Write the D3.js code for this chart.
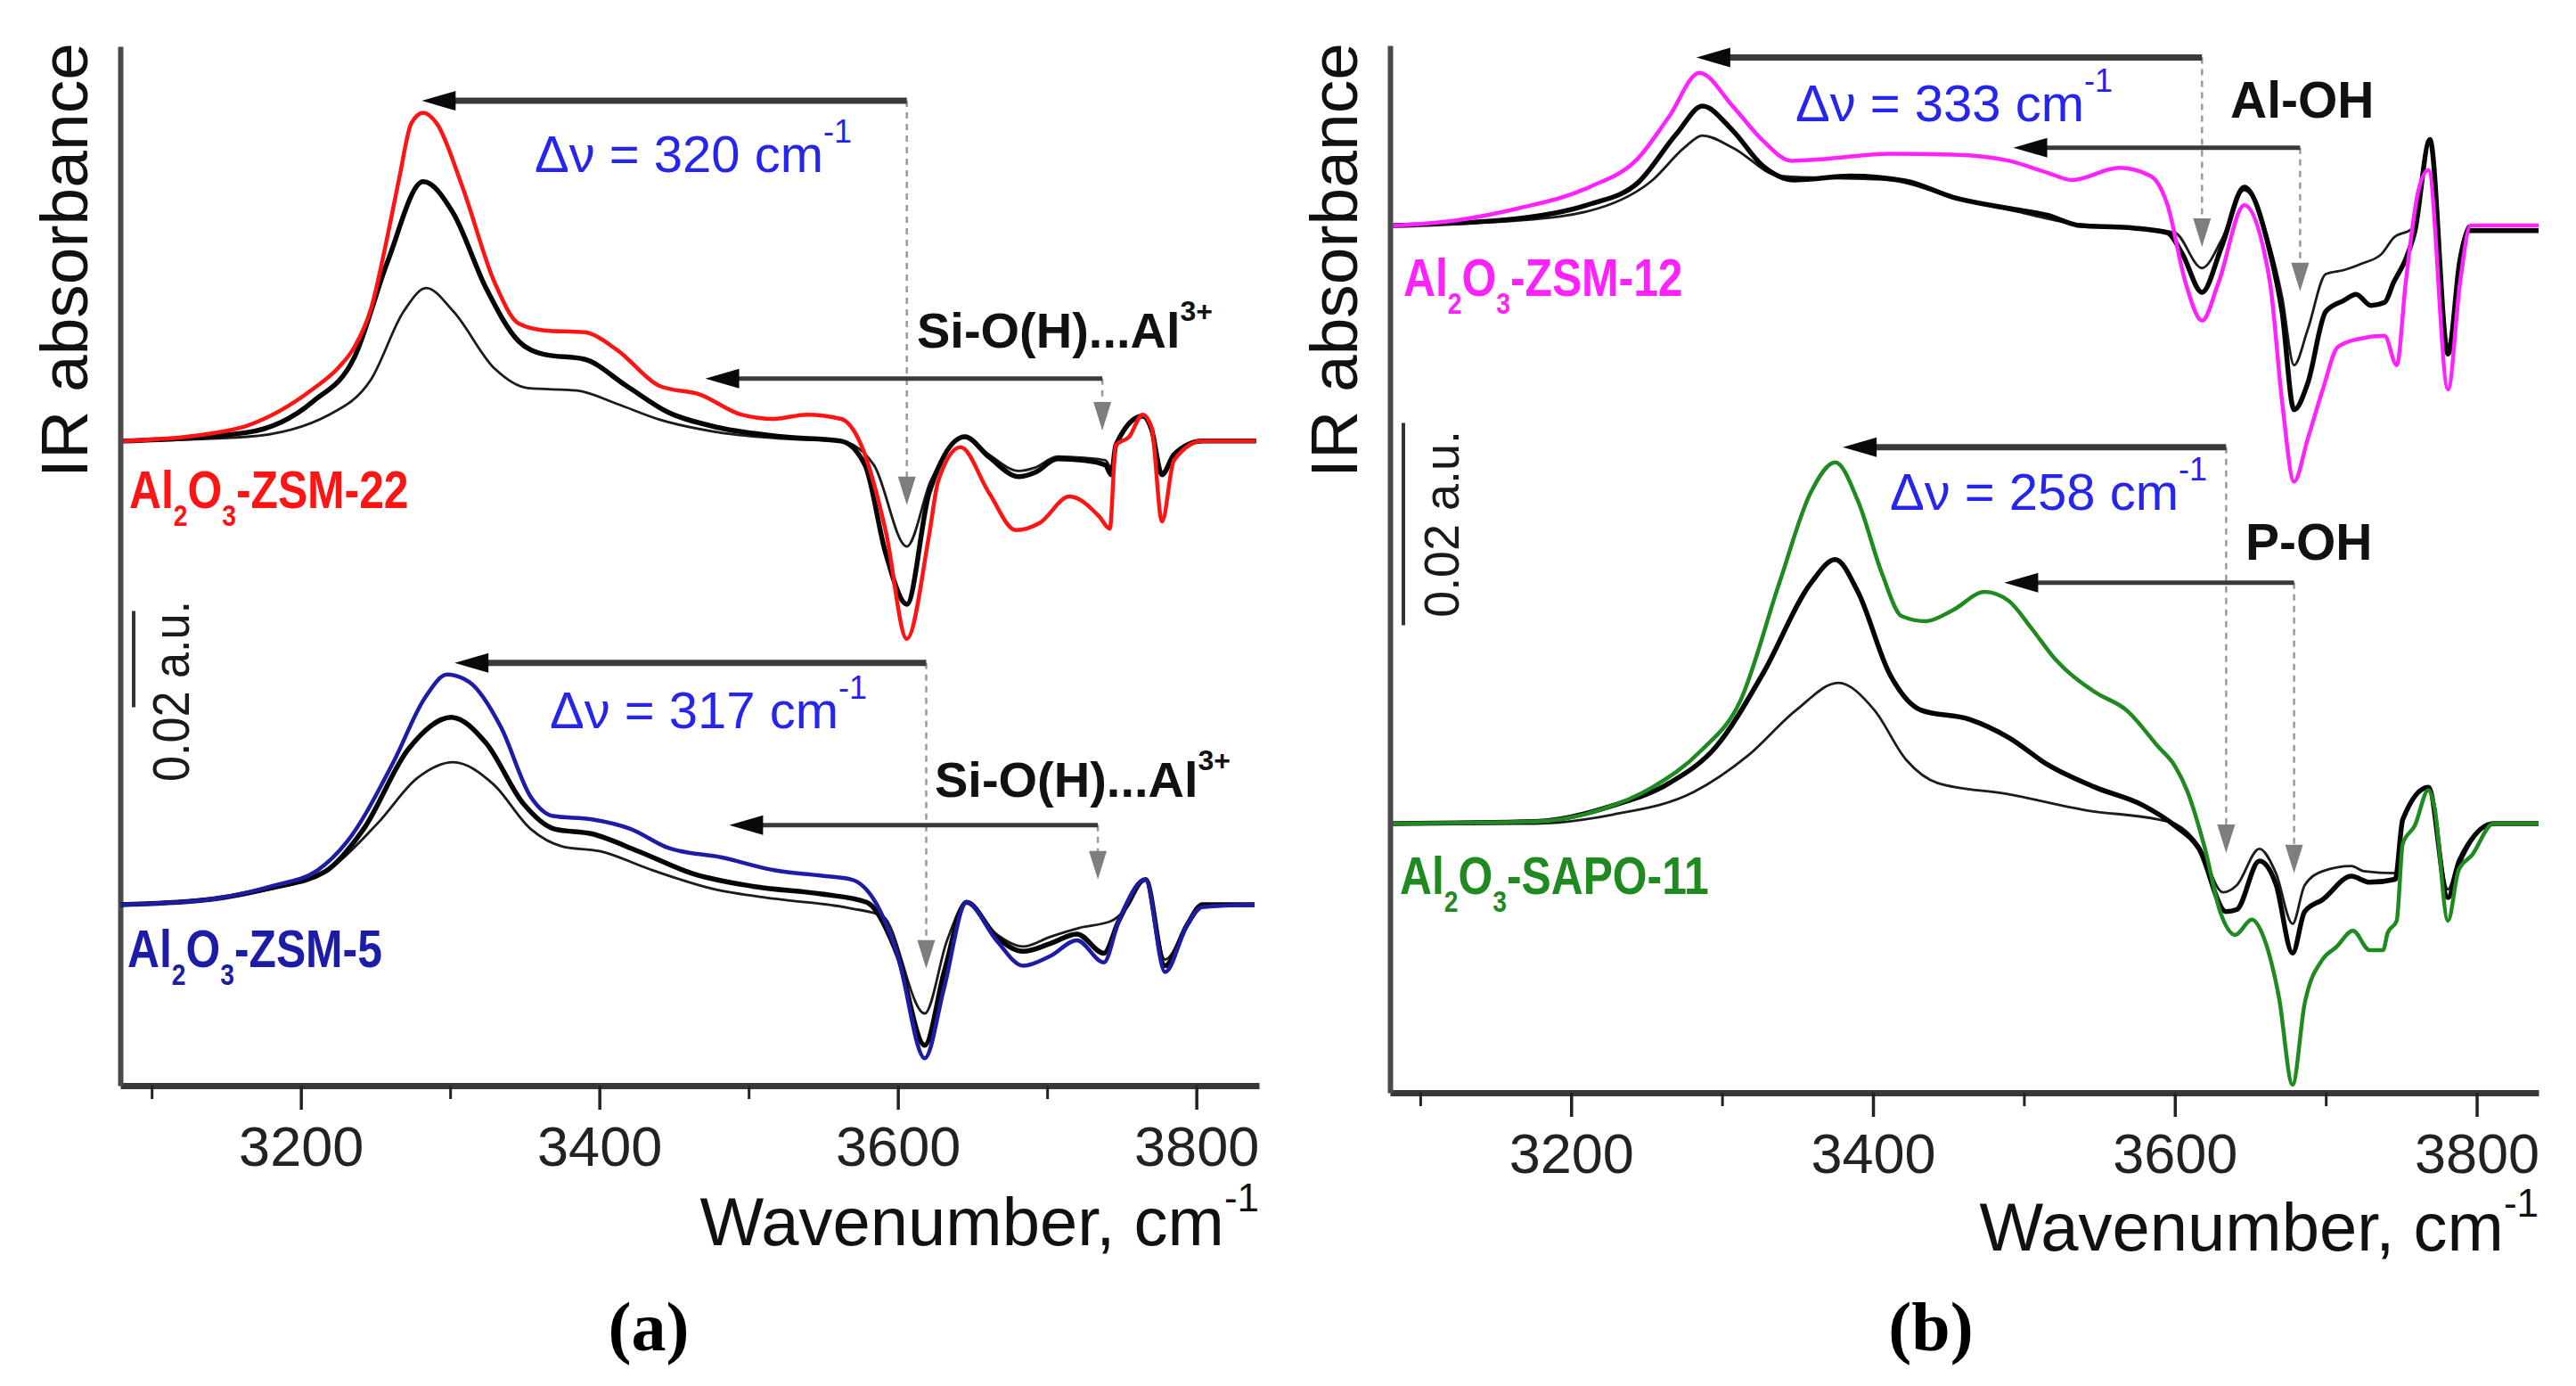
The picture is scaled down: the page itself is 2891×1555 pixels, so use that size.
<!DOCTYPE html>
<html>
<head>
<meta charset="utf-8">
<script src="https://cdn.jsdelivr.net/npm/d3@7"></script>
<style>
  html, body { margin: 0; background: #fff; }
  svg { display: block; }
</style>
</head>
<body>
<svg id="fig" width="2891" height="1555"></svg>
<script>
const FONT = "'Liberation Sans', Arial, sans-serif";

// wavenumber ticks (cm-1)
const MAJOR_TICKS = [3200, 3400, 3600, 3800];
const MINOR_TICKS = [3100, 3300, 3500, 3700];

// ---- panel (a), upper: Al2O3-ZSM-22  [wavenumber, absorbance change a.u.]
const zsm22Color = [[3081,0],[3136,0.0014],[3164,0.0032],[3208,0.0108],[3225,0.0152],[3236,0.0196],[3247,0.0275],[3258,0.0425],[3266,0.0548],[3274,0.066],[3282,0.0682],[3291,0.066],[3308,0.053],[3330,0.0328],[3346,0.0244],[3363,0.023],[3390,0.0226],[3412,0.0189],[3440,0.0115],[3468,0.0096],[3495,0.0055],[3517,0.0046],[3539,0.0055],[3562,0.0046],[3575,-0.0005],[3592,-0.0189],[3606,-0.0411],[3621,-0.0194],[3627,-0.0083],[3642,-0.0013],[3661,-0.0107],[3679,-0.0185],[3695,-0.017],[3715,-0.0115],[3735,-0.0157],[3742,-0.0182],[3746,-0.0009],[3755,0.0009],[3764,0.0055],[3770,0.0028],[3777,-0.0167],[3785,-0.004],[3804,0],[3840,0]];
const zsm22Thick = [[3081,0],[3164,0.0018],[3208,0.0082],[3236,0.0175],[3258,0.0372],[3282,0.0539],[3302,0.0474],[3324,0.0318],[3346,0.0207],[3363,0.018],[3390,0.017],[3418,0.0115],[3446,0.006],[3480,0.0028],[3523,0.0009],[3562,0],[3578,-0.005],[3592,-0.0235],[3606,-0.0339],[3621,-0.0107],[3645,0.0009],[3661,-0.0033],[3681,-0.0074],[3692,-0.0065],[3707,-0.0037],[3725,-0.004],[3739,-0.005],[3743,-0.007],[3746,-0.0009],[3764,0.0052],[3770,0.0024],[3777,-0.007],[3785,-0.0028],[3804,0],[3840,0]];
const zsm22Thin = [[3081,0],[3164,0.0009],[3219,0.0055],[3247,0.0128],[3269,0.027],[3284,0.0318],[3302,0.027],[3330,0.015],[3352,0.011],[3385,0.0105],[3412,0.0077],[3440,0.0045],[3480,0.0018],[3523,0.0005],[3562,0],[3584,-0.005],[3606,-0.0219],[3622,-0.0083],[3645,0.0009],[3661,-0.0028],[3681,-0.0062],[3692,-0.0055],[3707,-0.0032],[3725,-0.0035],[3739,-0.004],[3743,-0.0055],[3746,-0.0009],[3764,0.005],[3770,0.0024],[3777,-0.0065],[3785,-0.0026],[3804,0],[3840,0]];

// ---- panel (a), lower: Al2O3-ZSM-5
const zsm5Color = [[3079,0],[3134,0.0009],[3180,0.0038],[3211,0.0071],[3231,0.0131],[3262,0.0296],[3283,0.0429],[3298,0.0478],[3313,0.0462],[3334,0.0369],[3354,0.0224],[3369,0.0184],[3395,0.0177],[3421,0.0157],[3446,0.0118],[3482,0.0098],[3518,0.0071],[3549,0.006],[3569,0.0052],[3585,0.0005],[3600,-0.0107],[3618,-0.0319],[3631,-0.0173],[3646,0.0005],[3666,-0.0074],[3684,-0.0127],[3702,-0.0107],[3720,-0.0074],[3738,-0.012],[3748,-0.0034],[3766,0.0052],[3779,-0.014],[3794,-0.0041],[3804,-0.0005],[3839,0]];
const zsm5Thick = [[3079,0],[3134,0.0009],[3180,0.0035],[3216,0.0068],[3242,0.0157],[3272,0.0323],[3301,0.0389],[3324,0.0336],[3349,0.021],[3370,0.0157],[3395,0.0147],[3426,0.0111],[3462,0.0065],[3503,0.0038],[3549,0.0022],[3579,0.0005],[3600,-0.0107],[3618,-0.0292],[3631,-0.014],[3646,0.0005],[3666,-0.0067],[3684,-0.0097],[3702,-0.0081],[3720,-0.0061],[3738,-0.0101],[3748,-0.0034],[3766,0.0052],[3779,-0.0127],[3794,-0.0041],[3804,0],[3839,0]];
const zsm5Thin = [[3079,0],[3180,0.0032],[3221,0.0078],[3252,0.0171],[3278,0.0263],[3302,0.0296],[3329,0.025],[3354,0.0157],[3375,0.0121],[3400,0.0111],[3436,0.0071],[3477,0.0032],[3518,0.0012],[3569,-0.0008],[3590,-0.0024],[3618,-0.0226],[3633,-0.0074],[3646,0.0005],[3666,-0.0061],[3684,-0.0087],[3702,-0.0067],[3722,-0.0048],[3743,-0.0034],[3753,-0.0008],[3766,0.0052],[3779,-0.0114],[3794,-0.0041],[3804,0],[3839,0]];

// ---- panel (b), upper: Al2O3-ZSM-12
const zsm12Color = [[3082,0],[3123,0.0005],[3165,0.0017],[3212,0.0038],[3244,0.0066],[3265,0.0108],[3285,0.0151],[3307,0.0118],[3327,0.0084],[3346,0.0064],[3369,0.0066],[3411,0.0071],[3453,0.007],[3490,0.0064],[3516,0.0052],[3532,0.0045],[3563,0.0057],[3584,0.0049],[3595,0.0021],[3607,-0.0056],[3618,-0.0094],[3629,-0.0056],[3646,0.002],[3663,-0.0056],[3671,-0.0173],[3679,-0.0253],[3688,-0.0211],[3698,-0.0162],[3708,-0.012],[3722,-0.0112],[3739,-0.0109],[3747,-0.0138],[3753,-0.0056],[3761,0.0032],[3768,0.0055],[3781,-0.0162],[3789,-0.0056],[3796,0],[3841,0]];
const zsm12Thick = [[3082,0],[3165,0.0007],[3212,0.0021],[3244,0.0042],[3270,0.0091],[3287,0.0118],[3307,0.0094],[3327,0.0059],[3348,0.0045],[3385,0.0049],[3422,0.0044],[3453,0.0028],[3490,0.0017],[3516,0.001],[3537,0],[3569,-0.0002],[3595,-0.0007],[3605,-0.0028],[3618,-0.0066],[3631,-0.0021],[3646,0.0038],[3663,-0.0026],[3671,-0.0085],[3679,-0.0182],[3688,-0.0156],[3700,-0.0085],[3712,-0.0074],[3720,-0.0068],[3730,-0.0079],[3739,-0.0076],[3745,-0.0056],[3753,-0.0033],[3759,-0.0006],[3769,0.0085],[3781,-0.0127],[3789,-0.0033],[3795,-0.0005],[3841,-0.0005]];
const zsm12Thin = [[3082,0],[3165,0.0005],[3218,0.0017],[3254,0.0045],[3275,0.0077],[3287,0.0089],[3307,0.0077],[3338,0.0049],[3369,0.0047],[3411,0.0045],[3453,0.0028],[3495,0.0014],[3532,0.0002],[3569,-0.0002],[3600,-0.0007],[3618,-0.0042],[3631,-0.0014],[3646,0.0035],[3663,-0.002],[3671,-0.007],[3679,-0.0138],[3688,-0.0103],[3700,-0.0048],[3712,-0.0044],[3725,-0.0037],[3737,-0.0028],[3745,-0.0012],[3757,-0.0003],[3769,0.0085],[3781,-0.0118],[3789,-0.003],[3795,0],[3841,0]];

// ---- panel (b), lower: Al2O3-SAPO-11
const sapo11Color = [[3082,0],[3176,0.0002],[3218,0.0013],[3254,0.0036],[3286,0.0072],[3312,0.0121],[3338,0.0238],[3359,0.0328],[3375,0.0357],[3390,0.0319],[3406,0.0247],[3419,0.0205],[3435,0.02],[3453,0.0211],[3474,0.0229],[3490,0.022],[3505,0.0193],[3521,0.0162],[3547,0.013],[3568,0.0112],[3589,0.0076],[3600,0.0057],[3608,0.0033],[3620,-0.0025],[3630,-0.0087],[3640,-0.011],[3651,-0.0095],[3659,-0.0113],[3669,-0.0172],[3678,-0.0258],[3686,-0.0178],[3698,-0.0134],[3707,-0.0122],[3718,-0.0106],[3729,-0.0125],[3738,-0.0125],[3741,-0.0108],[3747,-0.0096],[3751,-0.002],[3759,-0.0002],[3768,0.0033],[3772,0.0016],[3781,-0.0096],[3788,-0.0046],[3797,-0.0031],[3811,0],[3841,0]];
const sapo11Thick = [[3082,0],[3176,0.0002],[3228,0.0018],[3265,0.004],[3296,0.0076],[3327,0.0148],[3359,0.0238],[3375,0.0261],[3390,0.0229],[3411,0.0148],[3432,0.0112],[3464,0.0103],[3490,0.0085],[3516,0.0058],[3547,0.0036],[3579,0.0018],[3600,-0.0002],[3616,-0.0025],[3634,-0.0087],[3641,-0.0085],[3656,-0.0037],[3667,-0.006],[3678,-0.0128],[3686,-0.0087],[3698,-0.0075],[3717,-0.0052],[3729,-0.0058],[3746,-0.0055],[3751,0.0004],[3768,0.0036],[3781,-0.0073],[3788,-0.004],[3811,0],[3841,0]];
const sapo11Thin = [[3082,0],[3176,0],[3228,0.0009],[3281,0.0031],[3317,0.0067],[3349,0.0112],[3377,0.0139],[3401,0.0112],[3422,0.0063],[3443,0.004],[3490,0.0029],[3542,0.0013],[3589,0.0004],[3600,0],[3616,-0.0022],[3632,-0.0068],[3641,-0.0061],[3656,-0.0025],[3667,-0.0049],[3678,-0.0099],[3686,-0.0061],[3698,-0.0047],[3717,-0.0042],[3725,-0.0047],[3746,-0.0049],[3751,0.0004],[3768,0.0036],[3781,-0.0065],[3788,-0.0035],[3811,0],[3841,0]];

// shift arrows: from the free OH band to the shifted band (cm-1), height and marker in a.u.
const arrowsA = [
  { from: 3606, to: 3281, y: 0.2046, drop: 0.1206, w: 7 },
  { from: 3737, to: 3471, y: 0.1469, drop: 0.1361, w: 5 },
  { from: 3619, to: 3303, y: 0.0878, drop: 0.0243, w: 7 },
  { from: 3734, to: 3487, y: 0.0541, drop: 0.0428, w: 5 }
];
const arrowsB = [
  { from: 3618, to: 3283, y: 0.1023, drop: 0.0836, w: 7 },
  { from: 3683, to: 3493, y: 0.0934, drop: 0.0792, w: 5 },
  { from: 3634, to: 3380, y: 0.0638, drop: 0.0237, w: 7 },
  { from: 3679, to: 3487, y: 0.0504, drop: 0.0217, w: 5 }
];

const svg = d3.select("#fig");
svg.append("rect").attr("width", 2891).attr("height", 1555).attr("fill", "#fff");

// text with sub/superscripts, optionally condensed horizontally
function richText(g, x, y, parts, o) {
  const t = g.append("text")
    .attr("transform", `translate(${x},${y})` + (o.rotate ? ` rotate(${o.rotate})` : "") + ` scale(${o.sx || 1},1)`)
    .attr("font-family", o.family || FONT)
    .attr("font-size", o.size)
    .attr("font-weight", o.weight || "normal")
    .attr("text-anchor", o.anchor || "start")
    .attr("fill", o.color || "#111");
  let shift = 0;
  parts.forEach(function (p) {
    const target = p.sub ? o.subDy : (p.sup ? -o.supDy : 0);
    t.append("tspan")
      .attr("dy", target - shift)
      .attr("font-size", (p.sub || p.sup) ? o.small : null)
      .text(p.t);
    shift = target;
  });
  return t;
}

function sampleLabel(g, x, y, name, color) {
  richText(g, x, y, [{ t: "Al" }, { t: "2", sub: true }, { t: "O" }, { t: "3", sub: true }, { t: "-" + name }],
    { size: 60, small: 34, subDy: 20, weight: "bold", color: color, sx: 0.83 });
}

function deltaLabel(g, x, y, value) {
  richText(g, x, y, [{ t: "\u0394\u03bd = " + value + " cm" }, { t: "-1", sup: true }],
    { size: 58, small: 36, supDy: 33, color: "#2525ee" });
}

function drawPanel(cfg) {
  const g = svg.append("g");
  const x = d3.scaleLinear().domain(cfg.wn).range([cfg.left, cfg.right]);
  const y = d3.scaleLinear().domain([0, cfg.yMax]).range([cfg.bottom, cfg.top]);

  // axes
  const major = g.append("g").attr("transform", `translate(0,${cfg.bottom})`)
    .call(d3.axisBottom(x).tickValues(MAJOR_TICKS).tickSize(27).tickSizeOuter(0).tickPadding(18).tickFormat(d3.format("d")));
  major.select(".domain").attr("stroke", "#383838").attr("stroke-width", 7);
  major.selectAll(".tick line").attr("stroke", "#222").attr("stroke-width", 3.5);
  major.selectAll(".tick text").attr("font-family", FONT).attr("font-size", 63).attr("fill", "#222");

  const minor = g.append("g").attr("transform", `translate(0,${cfg.bottom})`)
    .call(d3.axisBottom(x).tickValues(MINOR_TICKS).tickSize(15).tickFormat(""));
  minor.select(".domain").remove();
  minor.selectAll(".tick line").attr("stroke", "#222").attr("stroke-width", 3);

  const yAxis = g.append("g").attr("transform", `translate(${cfg.left},0)`)
    .call(d3.axisLeft(y).tickValues([]).tickSizeOuter(0));
  yAxis.select(".domain").attr("stroke", "#4a4a4a").attr("stroke-width", 6);

  // spectra
  cfg.groups.forEach(function (grp) {
    const line = d3.line()
      .x(d => x(d[0]))
      .y(d => y(grp.offset + d[1]))
      .curve(d3.curveMonotoneX);
    g.append("path").datum(grp.thin).attr("d", line)
      .attr("fill", "none").attr("stroke", "#1c1c1c").attr("stroke-width", 2.8).attr("stroke-linejoin", "round");
    g.append("path").datum(grp.thick).attr("d", line)
      .attr("fill", "none").attr("stroke", "#050505").attr("stroke-width", 5.5).attr("stroke-linejoin", "round");
    g.append("path").datum(grp.color).attr("d", line)
      .attr("fill", "none").attr("stroke", grp.stroke).attr("stroke-width", 4.5).attr("stroke-linejoin", "round");
  });

  // shift arrows with dashed drop lines and grey markers
  cfg.arrows.forEach(function (a) {
    const x0 = x(a.from), x1 = x(a.to), yy = y(a.y), yd = y(a.drop);
    g.append("line").attr("x1", x0).attr("x2", x0).attr("y1", yy).attr("y2", yd - 30)
      .attr("stroke", "#9a9a9a").attr("stroke-width", 2.5).attr("stroke-dasharray", "7,6");
    g.append("path").attr("d", `M${x0 - 10},${yd - 32}L${x0 + 10},${yd - 32}L${x0},${yd}Z`).attr("fill", "#7e7e7e");
    g.append("line").attr("x1", x0).attr("x2", x1 + 30).attr("y1", yy).attr("y2", yy)
      .attr("stroke", "#3a3a3a").attr("stroke-width", a.w);
    g.append("path").attr("d", `M${x1},${yy}L${x1 + 38},${yy - 11}L${x1 + 38},${yy + 11}Z`).attr("fill", "#0a0a0a");
  });

  // 0.02 a.u. scale bar
  g.append("line").attr("x1", cfg.bar.x).attr("x2", cfg.bar.x)
    .attr("y1", y(cfg.bar.y0)).attr("y2", y(cfg.bar.y0 + 0.02))
    .attr("stroke", "#333").attr("stroke-width", 4);
  richText(g, cfg.bar.tx, (y(cfg.bar.y0) + y(cfg.bar.y0 + 0.02)) / 2 + cfg.bar.tdy, [{ t: "0.02 a.u." }],
    { size: cfg.bar.size, rotate: -90, anchor: "middle", sx: cfg.bar.sx, color: "#1a1a1a" });

  // axis titles
  richText(g, cfg.left - 37, 292, [{ t: "IR absorbance" }],
    { size: 75, rotate: -90, anchor: "middle", color: "#111" });
  richText(g, cfg.right, cfg.xTitleY, [{ t: "Wavenumber, cm" }, { t: "-1", sup: true }],
    { size: 76, small: 44, supDy: 38, anchor: "end", color: "#111" });
  richText(g, cfg.capX, 1515, [{ t: cfg.caption }],
    { size: 78, weight: "bold", anchor: "middle", family: "'Liberation Serif', 'Times New Roman', serif", color: "#000" });
  return g;
}

// (a)
const ga = drawPanel({
  wn: [3079, 3842], left: 135, right: 1413, top: 52, bottom: 1218, yMax: 0.2159,
  groups: [
    { offset: 0.1339, thin: zsm22Thin, thick: zsm22Thick, color: zsm22Color, stroke: "#ff1414" },
    { offset: 0.0376, thin: zsm5Thin, thick: zsm5Thick, color: zsm5Color, stroke: "#1c1ca6" }
  ],
  arrows: arrowsA,
  bar: { x: 150, y0: 0.0786, tx: 212, tdy: 36, size: 58, sx: 0.9 },
  xTitleY: 1397, capX: 728, caption: "(a)"
});
deltaLabel(ga, 600, 193, "320");
deltaLabel(ga, 617, 817, "317");
[[1029, 390], [1049, 894]].forEach(function (p) {
  richText(ga, p[0], p[1], [{ t: "Si-O(H)...Al" }, { t: "3+", sup: true }],
    { size: 56, small: 32, supDy: 30, weight: "bold", color: "#111" });
});
sampleLabel(ga, 145, 570, "ZSM-22", "#ff1414");
sampleLabel(ga, 143, 1085, "ZSM-5", "#1c1ca6");

// (b)
const gb = drawPanel({
  wn: [3080, 3841], left: 1560, right: 2849, top: 51, bottom: 1226, yMax: 0.1035,
  groups: [
    { offset: 0.0857, thin: zsm12Thin, thick: zsm12Thick, color: zsm12Color, stroke: "#ff22ff" },
    { offset: 0.0266, thin: sapo11Thin, thick: sapo11Thick, color: sapo11Color, stroke: "#1f8a1f" }
  ],
  arrows: arrowsB,
  bar: { x: 1575, y0: 0.0462, tx: 1637, tdy: 0, size: 55, sx: 0.98 },
  xTitleY: 1403, capX: 2167, caption: "(b)"
});
deltaLabel(gb, 2015, 136, "333");
deltaLabel(gb, 2121, 572, "258");
richText(gb, 2503, 132, [{ t: "Al-OH" }], { size: 57, weight: "bold", color: "#111" });
richText(gb, 2520, 628, [{ t: "P-OH" }], { size: 57, weight: "bold", color: "#111" });
sampleLabel(gb, 1575, 332, "ZSM-12", "#ff22ff");
sampleLabel(gb, 1571, 1003, "SAPO-11", "#1f8a1f");
</script>
</body>
</html>
